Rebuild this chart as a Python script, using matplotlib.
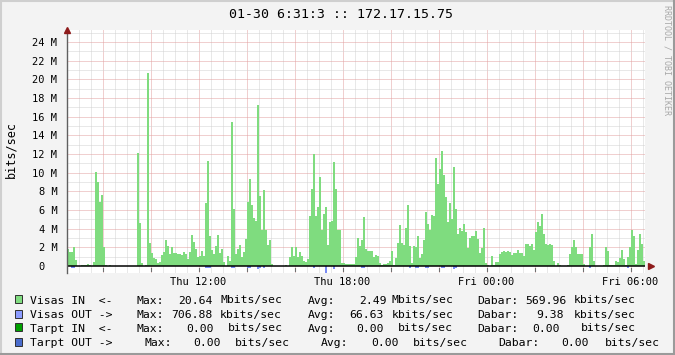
import numpy as np
import matplotlib
matplotlib.use('Agg')
import matplotlib.pyplot as plt
from matplotlib.patches import Rectangle
from matplotlib.lines import Line2D

# 5 minute samples, Mbits/sec, starting Thu 06:31
start_hour = 6.52
step_hour = 5.0 / 60.0

visas_in = [
    1.8, 1.5, 1.5, 2.0, 0.65, 0.05, 0.0, 0.1, 0.1, 0.1,
    0.2, 0.1, 0.0, 0.45, 10.1, 9.0, 6.9, 7.6, 2.0, 0.1,
    0.0, 0.1, 0.0, 0.0, 0.0, 0.0, 0.0, 0.0, 0.0, 0.0,
    0.0, 0.0, 0.0, 0.0, 0.0, 12.1, 4.6, 0.35, 0.02, 0.1,
    20.64, 2.5, 1.4, 0.9, 0.8, 0.35, 0.45, 1.2, 1.5, 2.8,
    2.1, 1.3, 2.0, 1.4, 1.35, 1.3, 1.25, 1.15, 1.5, 1.3,
    0.75, 1.5, 3.3, 2.6, 1.8, 1.0, 1.05, 1.6, 1.05, 6.8,
    11.25, 3.2, 1.7, 1.3, 2.1, 3.3, 1.4, 1.8, 0.45, 0.0,
    1.05, 0.55, 15.4, 6.1, 1.3, 1.8, 2.25, 1.0, 1.5, 2.85,
    6.85, 9.3, 6.5, 5.1, 4.8, 17.2, 7.5, 3.9, 8.1, 3.9,
    2.25, 2.8, 0.2, 0.0, 0.0, 0.0, 0.0, 0.0, 0.0, 0.1,
    0.05, 1.0, 2.0, 1.05, 2.0, 1.0, 1.5, 1.1, 0.55, 0.4,
    0.7, 5.35, 8.2, 12.0, 5.35, 6.3, 9.5, 3.9, 5.6, 6.3,
    2.25, 4.75, 4.8, 11.1, 8.2, 3.9, 3.85, 0.35, 0.3, 0.2,
    0.2, 0.2, 0.2, 0.2, 1.0, 3.0, 2.15, 2.8, 5.2, 1.8,
    1.65, 1.6, 1.6, 1.0, 1.2, 1.1, 0.3, 0.15, 0.2, 0.2,
    0.3, 0.55, 1.6, 0.1, 0.9, 2.5, 4.4, 2.45, 2.25, 4.05,
    6.55, 2.15, 0.35, 2.15, 2.0, 3.2, 0.9, 1.3, 2.8, 5.8,
    4.5, 3.9, 5.45, 5.35, 11.6, 8.75, 10.4, 12.35, 9.7, 7.35,
    4.75, 6.8, 5.0, 10.65, 6.1, 3.4, 4.05, 3.7, 4.5, 3.6,
    1.9, 3.0, 3.25, 3.25, 3.7, 2.85, 1.35, 1.9, 4.05, 0.3,
    0.1, 0.0, 1.05, 0.1, 0.45, 0.45, 1.3, 1.45, 1.6, 1.5,
    1.6, 1.45, 1.15, 1.35, 1.35, 1.7, 1.35, 1.35, 1.1, 2.35,
    2.35, 2.1, 2.35, 1.7, 3.65, 4.7, 4.3, 5.55, 3.4, 2.35,
    2.2, 2.35, 2.25, 0.55, 0.0, 0.35, 0.1, 0.0, 0.0, 0.0,
    0.1, 1.3, 2.0, 2.8, 2.0, 1.3, 1.3, 1.3, 0.2, 0.0,
    0.0, 2.0, 3.4, 0.55, 0.0, 0.0, 0.0, 0.0, 0.15, 2.0,
    1.65, 0.1, 0.1, 0.1, 0.55, 0.45, 0.9, 1.7, 0.8, 0.15,
    1.0, 2.0, 3.85, 3.2, 0.2, 1.7, 3.4, 2.35, 0.55,
]

# visible outbound samples (drawn below zero)
visas_out_idx = [2, 3, 69, 70, 71, 82, 83, 90, 91, 95, 96, 98, 123, 129, 133,
                 147, 148, 171, 174, 175, 179, 180, 187, 188, 193, 194, 261, 280]
visas_out = [0.18, 0.18, 0.25, 0.25, 0.25, 0.18, 0.18, 0.18, 0.18, 0.3, 0.18, 0.18, 0.18, 0.7, 0.3,
             0.18, 0.18, 0.18, 0.18, 0.18, 0.18, 0.18, 0.18, 0.18, 0.3, 0.18, 0.18, 0.18]

ytick_vals = [0, 2, 4, 6, 8, 10, 12, 14, 16, 18, 20, 22, 24]
xtick_vals = [12, 18, 24, 30]
xtick_labels = ['Thu 12:00', 'Thu 18:00', 'Fri 00:00', 'Fri 06:00']

legend_rows = [
    ('#80dc80', [(30.5, 'Visas IN  <-'), (137, 'Max:'), (179, '20.64'), (220.5, 'Mbits/sec'),
                 (308, 'Avg:'), (359.5, '2.49'), (392, 'Mbits/sec'),
                 (477.5, 'Dabar:'), (526, '569.96'), (574, 'kbits/sec')]),
    ('#8c9cff', [(30.5, 'Visas OUT ->'), (137, 'Max:'), (172, '706.88'), (220.5, 'kbits/sec'),
                 (308, 'Avg:'), (349.5, '66.63'), (392, 'kbits/sec'),
                 (477.5, 'Dabar:'), (536.5, '9.38'), (574, 'kbits/sec')]),
    ('#00a000', [(30.5, 'Tarpt IN  <-'), (137, 'Max:'), (186.5, '0.00'), (228, 'bits/sec'),
                 (308, 'Avg:'), (356.5, '0.00'), (398.5, 'bits/sec'),
                 (477.5, 'Dabar:'), (533, '0.00'), (581.5, 'bits/sec')]),
    ('#4a6ccc', [(30.5, 'Tarpt OUT ->'), (145, 'Max:'), (194, '0.00'), (235.5, 'bits/sec'),
                 (321.5, 'Avg:'), (371.5, '0.00'), (413, 'bits/sec'),
                 (499, 'Dabar:'), (561.5, '0.00'), (605, 'bits/sec')]),
]

W, H = 675, 355
mono = 'DejaVu Sans Mono'
plt.rcParams['font.family'] = mono

fig = plt.figure(figsize=(W / 100, H / 100), dpi=100, facecolor='#f3f3f3')

def fx(x):
    return x / W

def fy(y):
    return 1 - y / H

left, right, top, bottom = 67, 645, 30, 273
ax = fig.add_axes([fx(left), fy(bottom), fx(right - left), (bottom - top) / H])
ax.set_facecolor('white')

x0 = start_hour + step_hour * np.arange(len(visas_in))
ax.bar(x0, visas_in, width=step_hour, align='edge', color='#7fdc7f',
       edgecolor='none', linewidth=0, antialiased=False, zorder=3)
xo = start_hour + step_hour * np.array(visas_out_idx)
ax.bar(xo, [-v for v in visas_out], width=step_hour, align='edge', color='#7a8cf5',
       edgecolor='none', linewidth=0, antialiased=False, zorder=3)

px_per_m = 9.333
ax.set_ylim(-(bottom - 266) / px_per_m, (266 - top) / px_per_m)
ax.set_xlim(start_hour, start_hour + (right - left) / 24.0)

# grid
dot = dict(linewidth=0.72, dashes=(1, 1), zorder=1)
for h in np.arange(7.0, 31.0, 0.5):
    major = abs(h / 2 - round(h / 2)) < 1e-6
    ax.axvline(h, color='#e3a0a0' if major else '#d2d2d2', **dot)
for m in range(1, 26):
    ax.axhline(m, color='#e3a0a0' if m % 2 == 0 else '#d2d2d2', **dot)

ax.axhline(0, color='black', linewidth=1.1, zorder=4)
for h in np.arange(8.0, 31.0, 2.0):
    ax.plot([h, h], [-0.2, -0.5], color='#707070', linewidth=0.8, zorder=4)

for s in ['top', 'right', 'bottom']:
    ax.spines[s].set_visible(False)
ax.spines['left'].set_color('#606060')
ax.spines['left'].set_linewidth(1.0)
ax.spines['left'].set_zorder(5)

ax.set_yticks(ytick_vals)
ax.set_yticklabels([('%d M' % v) if v else '0  ' for v in ytick_vals], fontsize=7.5)
ax.tick_params(axis='y', length=0, pad=7)
ax.set_xticks(xtick_vals)
ax.set_xticklabels(xtick_labels, fontsize=7.5)
ax.tick_params(axis='x', length=0, pad=3)

# axis arrows
ax.plot([0], [1.0], marker='^', markersize=5, color='#8e1b1b', transform=ax.transAxes,
        clip_on=False, zorder=6)
ax.plot([start_hour + (651 - left) / 24.0], [0], marker='>', markersize=5, color='#8e1b1b',
        clip_on=False, zorder=6)

fig.text(fx(341), fy(15), '01-30 6:31:3 :: 172.17.15.75', ha='center', va='center',
         fontsize=9.5, color='black')
fig.text(fx(11), fy(150), 'bits/sec', rotation=90, ha='center', va='center', fontsize=8.5)
fig.text(fx(667), fy(60), 'RRDTOOL / TOBI OETIKER', rotation=270, ha='center', va='center',
         fontsize=6, color='#a8a8a8')

row_y = [299.3, 313.7, 327.3, 341.5]
for (color, segs), y in zip(legend_rows, row_y):
    fig.patches.append(Rectangle((fx(15), fy(y + 4)), 7 / W, 8 / H, transform=fig.transFigure,
                                 facecolor=color, edgecolor='#303030', linewidth=0.7))
    for x, t in segs:
        fig.text(fx(x - 0.5), fy(y + 4.2), t, ha='left', va='baseline', fontsize=8.2, color='black')

# canvas border
fig.lines.append(Line2D([0, 1], [fy(1), fy(1)], transform=fig.transFigure, color='#cfcfcf', linewidth=1.5))
fig.lines.append(Line2D([fx(1), fx(1)], [0, 1], transform=fig.transFigure, color='#cfcfcf', linewidth=1.5))
fig.lines.append(Line2D([0, 1], [fy(H - 1), fy(H - 1)], transform=fig.transFigure, color='#9a9a9a', linewidth=1.5))
fig.lines.append(Line2D([fx(W - 1), fx(W - 1)], [0, 1], transform=fig.transFigure, color='#9a9a9a', linewidth=1.5))

fig.savefig('out.png', dpi=100, facecolor=fig.get_facecolor())
